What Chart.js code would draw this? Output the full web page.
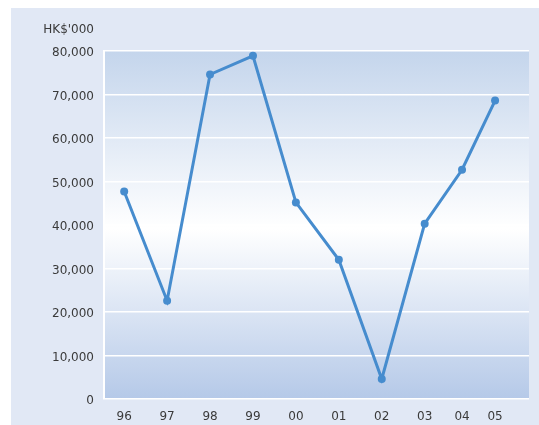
<!DOCTYPE html>
<html>
<head>
<meta charset="utf-8">
<script src="https://cdn.jsdelivr.net/npm/chart.js@4/dist/chart.umd.min.js"></script>
<style>
  body { margin: 0; background: #fff; }
  #wrap { width: 539px; height: 425px; }
</style>
</head>
<body>
<div id="wrap"><canvas id="myChart" width="539" height="425"></canvas></div>
<script>
// years shown along the bottom
var years = ["96", "97", "98", "99", "00", "01", "02", "03", "04", "05"];
// where each year sits on the (unevenly spaced) x axis
var yearPos = [0, 1, 2, 3, 4, 5, 6, 7, 7.87, 8.64];
// amounts in HK$'000
var amounts = [47700, 22600, 74600, 78900, 45200, 32000, 4600, 40300, 52700, 68600];
var yTicks = [0, 10000, 20000, 30000, 40000, 50000, 60000, 70000, 80000];
var unitLabel = "HK$'000";

var labelFont = { family: "DejaVu Sans", size: 12 };
var labelColor = "#3a3a3a";

var bgPlugin = {
	id: 'bg',
	beforeDraw: function(chart) {
		var c = chart.ctx, a = chart.chartArea;
		c.save();
		c.fillStyle = "#ffffff";
		c.fillRect(0, 0, chart.width, chart.height);
		c.fillStyle = "#e1e8f5";
		c.fillRect(11, 8, chart.width - 11, chart.height - 8);
		var g = c.createLinearGradient(0, a.top, 0, a.bottom);
		g.addColorStop(0, "rgb(196,213,236)");
		g.addColorStop(0.51, "rgb(255,255,255)");
		g.addColorStop(1, "rgb(181,201,232)");
		c.fillStyle = g;
		c.fillRect(a.left, a.top, a.right - a.left, a.bottom - a.top);
		c.restore();
	},
	afterDraw: function(chart) {
		var c = chart.ctx;
		c.save();
		c.font = "12px 'DejaVu Sans'";
		c.fillStyle = labelColor;
		c.textAlign = "right";
		c.textBaseline = "alphabetic";
		c.fillText(unitLabel, 94, 33);
		c.restore();
	}
};

var ctx = document.getElementById("myChart");
var myChart = new Chart(ctx, {
	type: 'line',
	data: {
		datasets: [{
			label: "Amount",
			data: amounts.map(function(v, i) { return { x: yearPos[i], y: v }; }),
			borderColor: "rgb(70,140,206)",
			backgroundColor: "rgb(70,140,206)",
			borderWidth: 3,
			pointRadius: 4,
			pointBorderWidth: 0,
			tension: 0,
			fill: false
		}]
	},
	options: {
		responsive: false,
		maintainAspectRatio: false,
		animation: false,
		layout: { padding: { left: 0, top: 51, right: 10, bottom: 0 } },
		plugins: {
			legend: { display: false },
			tooltip: { enabled: false }
		},
		scales: {
			x: {
				type: 'linear',
				min: -0.47,
				max: 9.43,
				afterBuildTicks: function(scale) {
					scale.ticks = yearPos.map(function(v) { return { value: v }; });
				},
				afterFit: function(scale) { scale.height = 26; },
				grid: { display: false },
				border: { display: false },
				ticks: {
					autoSkip: false,
					maxRotation: 0,
					padding: 3,
					color: labelColor,
					font: labelFont,
					callback: function(v, i) { return years[i]; }
				}
			},
			y: {
				min: 0,
				max: 80000,
				afterBuildTicks: function(scale) {
					scale.ticks = yTicks.map(function(v) { return { value: v }; });
				},
				afterFit: function(scale) { scale.width = 104; },
				grid: { color: "#ffffff", lineWidth: 1.5, drawTicks: false },
				border: { display: true, color: "#ffffff", width: 2 },
				ticks: {
					padding: 10,
					labelOffset: 2,
					color: labelColor,
					font: labelFont,
					callback: function(v) { return v.toLocaleString('en-US'); }
				}
			}
		}
	},
	plugins: [bgPlugin]
});
</script>
</body>
</html>
